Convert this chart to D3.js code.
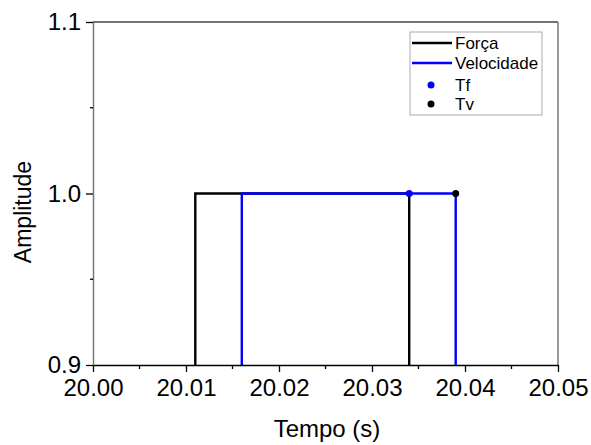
<!DOCTYPE html>
<html>
<head>
<meta charset="utf-8">
<script src="https://cdn.jsdelivr.net/npm/d3@7"></script>
<style>
  body { margin: 0; background: #fff; }
  text { font-family: "Liberation Sans", Arial, sans-serif; fill: #000; }
</style>
</head>
<body>
<script>
// Data
var forcaT = [20.000, 20.011, 20.011, 20.034, 20.034, 20.050];
var forcaA = [0, 0, 1, 1, 0, 0];
var velT = [20.000, 20.016, 20.016, 20.039, 20.039, 20.050];
var velA = [0, 0, 1, 1, 0, 0];
var tfPoint = [20.034, 1.0];
var tvPoint = [20.039, 1.0];
var xTicks = [20.00, 20.01, 20.02, 20.03, 20.04, 20.05];
var xMinor = [20.005, 20.015, 20.025, 20.035, 20.045];
var yTicks = [0.9, 1.0, 1.1];
var yMinor = [0.95, 1.05];
var legendNames = ["Força", "Velocidade", "Tf", "Tv"];

var W = 591, H = 445;
var margin = {top: 22, right: 33, bottom: 80, left: 93},
    width = W - margin.left - margin.right,
    height = H - margin.top - margin.bottom;

var svg = d3.select("body").append("svg")
    .attr("width", W)
    .attr("height", H);

var g = svg.append("g")
    .attr("transform", "translate(" + margin.left + "," + margin.top + ")");

var x = d3.scaleLinear().domain([20.00, 20.05]).range([0, width]);
var y = d3.scaleLinear().domain([0.9, 1.1]).range([height, 0]);

// clip for the data
g.append("clipPath").attr("id", "clip")
    .append("rect").attr("width", width).attr("height", height);

var plot = g.append("g").attr("clip-path", "url(#clip)");

var line = d3.line()
    .x(function(d) { return x(d[0]); })
    .y(function(d) { return y(d[1]); });

plot.append("path")
    .datum(d3.zip(forcaT, forcaA))
    .attr("d", line)
    .attr("fill", "none")
    .attr("stroke", "#000")
    .attr("stroke-width", 2.4);

plot.append("path")
    .datum(d3.zip(velT, velA))
    .attr("d", line)
    .attr("fill", "none")
    .attr("stroke", "#0000ff")
    .attr("stroke-width", 2.4);

g.append("circle")
    .attr("cx", x(tfPoint[0])).attr("cy", y(tfPoint[1]))
    .attr("r", 3.5).attr("fill", "#0000ff");
g.append("circle")
    .attr("cx", x(tvPoint[0])).attr("cy", y(tvPoint[1]))
    .attr("r", 3.5).attr("fill", "#000");

// frame: top and right
g.append("line").attr("x1", 0).attr("x2", width).attr("y1", 0).attr("y2", 0)
    .attr("stroke", "#444").attr("stroke-width", 1.3);
g.append("line").attr("x1", width).attr("x2", width).attr("y1", 0).attr("y2", height)
    .attr("stroke", "#777").attr("stroke-width", 1.5);

// Axes
var xAxis = d3.axisBottom(x)
    .tickValues(xTicks)
    .tickFormat(d3.format(".2f"))
    .tickSizeInner(7).tickSizeOuter(0).tickPadding(7);

var yAxis = d3.axisLeft(y)
    .tickValues(yTicks)
    .tickFormat(d3.format(".1f"))
    .tickSizeInner(7).tickSizeOuter(0).tickPadding(5);

var gx = g.append("g")
    .attr("transform", "translate(0," + height + ")")
    .call(xAxis);
gx.select(".domain").attr("stroke", "#000").attr("stroke-width", 1.3);
gx.selectAll(".tick line").attr("stroke", "#000").attr("stroke-width", 1.3);
gx.selectAll(".tick text").style("font-size", "24px");
gx.selectAll(".minor").data(xMinor).enter().append("line")
    .attr("x1", function(d) { return x(d); }).attr("x2", function(d) { return x(d); })
    .attr("y1", 0).attr("y2", 4)
    .attr("stroke", "#000").attr("stroke-width", 1.3);

var gy = g.append("g").call(yAxis);
gy.select(".domain").attr("stroke", "#777").attr("stroke-width", 1.5);
gy.selectAll(".tick line").attr("stroke", "#000").attr("stroke-width", 1.3);
gy.selectAll(".tick text").style("font-size", "24px");
gy.selectAll(".minor").data(yMinor).enter().append("line")
    .attr("y1", function(d) { return y(d); }).attr("y2", function(d) { return y(d); })
    .attr("x1", 0).attr("x2", -3)
    .attr("stroke", "#000").attr("stroke-width", 1.3);

// Axis labels
svg.append("text")
    .attr("x", 327).attr("y", 437)
    .attr("text-anchor", "middle")
    .style("font-size", "24px")
    .text("Tempo (s)");

svg.append("text")
    .attr("transform", "translate(31,212) rotate(-90)")
    .attr("text-anchor", "middle")
    .style("font-size", "23px")
    .text("Amplitude");

// Legend
var leg = svg.append("g").attr("transform", "translate(410,32)");
leg.append("rect")
    .attr("width", 132).attr("height", 83)
    .attr("fill", "#fff").attr("stroke", "#aaa").attr("stroke-width", 1);

var rowY = [11, 31, 53, 72];
var legColors = ["#000", "#0000ff", "#0000ff", "#000"];
legendNames.forEach(function(name, i) {
    if (i < 2) {
        leg.append("line")
            .attr("x1", 2).attr("x2", 42)
            .attr("y1", rowY[i]).attr("y2", rowY[i])
            .attr("stroke", legColors[i]).attr("stroke-width", 2.4);
    } else {
        leg.append("circle")
            .attr("cx", 21).attr("cy", rowY[i])
            .attr("r", 3.5).attr("fill", legColors[i]);
    }
    leg.append("text")
        .attr("x", 45).attr("y", rowY[i])
        .attr("dy", "0.35em")
        .style("font-size", "17px")
        .text(name);
});
</script>
</body>
</html>
